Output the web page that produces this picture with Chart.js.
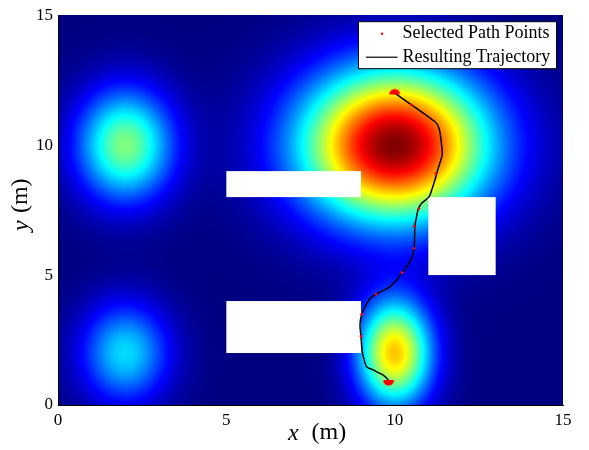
<!DOCTYPE html>
<html>
<head>
<meta charset="utf-8">
<script src="https://cdn.jsdelivr.net/npm/chart.js@4.4.1/dist/chart.umd.min.js"></script>
<style>
  html, body { margin: 0; padding: 0; background: #fff; }
  #wrap { width: 589px; height: 450px; position: relative; }
</style>
</head>
<body>
<div id="wrap"><canvas id="monGraphe"></canvas></div>
<script>
// bosses of the cost field: centre, height, spread in x and y (m)
const bumpX  = [2, 2, 10, 10];
const bumpY  = [10, 2, 10, 2];
const bumpH  = [0.5, 0.34, 1.0, 0.68];
const bumpSx = [1.0, 0.92, 1.95, 0.78];
const bumpSy = [1.5, 1.35, 2.05, 1.45];

// obstacles (white boxes)
const obsX0 = [5, 5, 11];
const obsX1 = [9, 9, 13];
const obsY0 = [8, 2, 5];
const obsY1 = [9, 4, 8];

// resulting trajectory
const trajX = [10.0, 11.20, 11.32, 11.40, 11.41, 11.29, 11.20, 11.10, 11.02, 10.80, 10.70, 10.65, 10.60, 10.58,
               10.52, 10.31, 10.22, 10.06, 9.86, 9.44, 9.27, 9.12, 9.02, 8.97, 9.00, 9.03, 9.07, 9.17, 9.36, 9.66, 9.82];
const trajY = [12.0, 10.90, 10.64, 9.93, 9.62, 9.10, 8.68, 8.27, 8.01, 7.76, 7.53, 7.24, 6.88, 6.03,
               5.70, 5.22, 5.09, 4.81, 4.55, 4.26, 4.10, 3.78, 3.49, 3.08, 2.63, 2.12, 1.86, 1.47, 1.35, 1.15, 0.96];

// selected path points
const ptsX = [10.50, 11.22, 10.72, 10.58, 10.57, 10.22, 9.44, 9.02, 9.00];
const ptsY = [11.54, 8.91, 7.56, 6.88, 6.03, 5.09, 4.26, 3.49, 2.65];
// start / goal clusters
const endX = [10.0, 9.82];
const endY = [11.95, 0.96];

const xTicks = [0, 5, 10, 15];
const yTicks = [0, 5, 10, 15];

const serif = '"Liberation Serif", "Times New Roman", serif';

function jet(v) {
  const c = t => Math.max(0, Math.min(1, t));
  return [c(1.5 - Math.abs(4 * v - 3)), c(1.5 - Math.abs(4 * v - 2)), c(1.5 - Math.abs(4 * v - 1))];
}

function champ(x, y) {
  let s = 0;
  for (let i = 0; i < bumpX.length; i++) {
    const dx = (x - bumpX[i]) / bumpSx[i], dy = (y - bumpY[i]) / bumpSy[i];
    s += bumpH[i] * Math.exp(-0.5 * (dx * dx + dy * dy));
  }
  return s;
}

// half disc markers for start and goal
function demi(up) {
  const c = document.createElement('canvas');
  c.width = 14; c.height = 14;
  const g = c.getContext('2d');
  g.fillStyle = '#ff0000';
  g.beginPath();
  g.moveTo(1.5, 7);
  if (up) g.arc(7, 7, 5.5, Math.PI, 2 * Math.PI);
  else g.arc(7, 7, 5.5, Math.PI, 0, true);
  g.closePath();
  g.fill();
  return c;
}

const heatPlugin = {
  id: 'heat',
  beforeDraw(chart) {
    const a = chart.chartArea, sx = chart.scales.x, sy = chart.scales.y, ctx = chart.ctx;
    const w = Math.round(a.right - a.left), h = Math.round(a.bottom - a.top);
    const vals = new Float32Array(w * h);
    let lo = Infinity, hi = -Infinity;
    for (let j = 0; j < h; j++) {
      const y = sy.getValueForPixel(a.top + j + 0.5);
      for (let i = 0; i < w; i++) {
        const x = sx.getValueForPixel(a.left + i + 0.5);
        const v = champ(x, y);
        vals[j * w + i] = v;
        if (v < lo) lo = v;
        if (v > hi) hi = v;
      }
    }
    const off = document.createElement('canvas');
    off.width = w; off.height = h;
    const octx = off.getContext('2d');
    const img = octx.createImageData(w, h);
    for (let k = 0; k < w * h; k++) {
      const col = jet((vals[k] - lo) / (hi - lo));
      img.data[4 * k] = Math.round(col[0] * 255);
      img.data[4 * k + 1] = Math.round(col[1] * 255);
      img.data[4 * k + 2] = Math.round(col[2] * 255);
      img.data[4 * k + 3] = 255;
    }
    octx.putImageData(img, 0, 0);
    ctx.save();
    ctx.drawImage(off, a.left, a.top);
    // obstacles
    ctx.fillStyle = '#ffffff';
    for (let i = 0; i < obsX0.length; i++) {
      const px0 = sx.getPixelForValue(obsX0[i]), px1 = sx.getPixelForValue(obsX1[i]);
      const py0 = sy.getPixelForValue(obsY1[i]), py1 = sy.getPixelForValue(obsY0[i]);
      ctx.fillRect(px0, py0, px1 - px0, py1 - py0);
    }
    ctx.restore();
  },
  afterDraw(chart) {
    const a = chart.chartArea, ctx = chart.ctx;
    ctx.save();
    // legend box
    const bx = a.right - 204.5, by = a.top + 6.5, bw = 198, bh = 47;
    ctx.fillStyle = '#ffffff';
    ctx.fillRect(bx, by, bw, bh);
    ctx.strokeStyle = '#000000';
    ctx.lineWidth = 1;
    ctx.strokeRect(bx, by, bw, bh);
    ctx.fillStyle = '#ff0000';
    ctx.beginPath();
    ctx.arc(bx + 23.5, by + 12, 1.2, 0, 2 * Math.PI);
    ctx.fill();
    ctx.strokeStyle = '#000000';
    ctx.lineWidth = 1.2;
    ctx.beginPath();
    ctx.moveTo(bx + 7.5, by + 35.5);
    ctx.lineTo(bx + 39, by + 35.5);
    ctx.stroke();
    ctx.fillStyle = '#000000';
    ctx.font = '18px ' + serif;
    ctx.textBaseline = 'middle';
    ctx.textAlign = 'left';
    ctx.fillText('Selected Path Points', bx + 44, by + 12);
    ctx.fillText('Resulting Trajectory', bx + 44, by + 35.5);

    // axis titles
    const cx = (a.left + a.right) / 2 - 22.5;
    ctx.textBaseline = 'middle';
    ctx.font = 'italic 24px ' + serif;
    ctx.fillText('x', cx, 434);
    ctx.font = '24px ' + serif;
    ctx.fillText('(m)', cx + 23.5, 433);

    const cy = (a.top + a.bottom) / 2 + 21;
    ctx.translate(22, cy);
    ctx.rotate(-Math.PI / 2);
    ctx.font = 'italic 24px ' + serif;
    ctx.fillText('y', 0, 0);
    ctx.font = '24px ' + serif;
    ctx.fillText('(m)', 18, -1);
    ctx.restore();
  }
};

const ctx = document.getElementById('monGraphe');
const myChart = new Chart(ctx, {
  type: 'scatter',
  data: {
    datasets: [
      {
        label: 'start/goal',
        data: endX.map((x, i) => ({ x: x, y: endY[i] })),
        pointStyle: [demi(true), demi(false)],
        pointRadius: 6,
        showLine: false
      },
      {
        label: 'Selected Path Points',
        data: ptsX.map((x, i) => ({ x: x, y: ptsY[i] })),
        pointBackgroundColor: '#ff0000',
        pointBorderWidth: 0,
        pointRadius: 1.4,
        showLine: false
      },
      {
        label: 'Resulting Trajectory',
        data: trajX.map((x, i) => ({ x: x, y: trajY[i] })),
        showLine: true,
        borderColor: '#000000',
        borderWidth: 1.5,
        pointRadius: 0,
        tension: 0.3
      }
    ]
  },
  options: {
    responsive: true,
    maintainAspectRatio: false,
    animation: false,
    events: [],
    layout: { padding: { top: 15, right: 26, left: 0, bottom: 0 } },
    plugins: { legend: { display: false }, tooltip: { enabled: false } },
    scales: {
      x: {
        type: 'linear',
        min: 0, max: 15,
        afterFit: s => { s.height = 45; },
        afterBuildTicks: s => { s.ticks = xTicks.map(v => ({ value: v })); },
        ticks: { color: '#000', font: { family: serif, size: 17 }, padding: 5, maxRotation: 0 },
        grid: { display: false, drawTicks: false },
        border: { display: true, color: '#000', width: 1 }
      },
      y: {
        type: 'linear',
        min: 0, max: 15,
        afterFit: s => { s.width = 58; },
        afterBuildTicks: s => { s.ticks = yTicks.map(v => ({ value: v })); },
        ticks: { color: '#000', font: { family: serif, size: 17 }, padding: 5 },
        grid: { display: false, drawTicks: false },
        border: { display: true, color: '#000', width: 1 }
      }
    }
  },
  plugins: [heatPlugin]
});
</script>
</body>
</html>
